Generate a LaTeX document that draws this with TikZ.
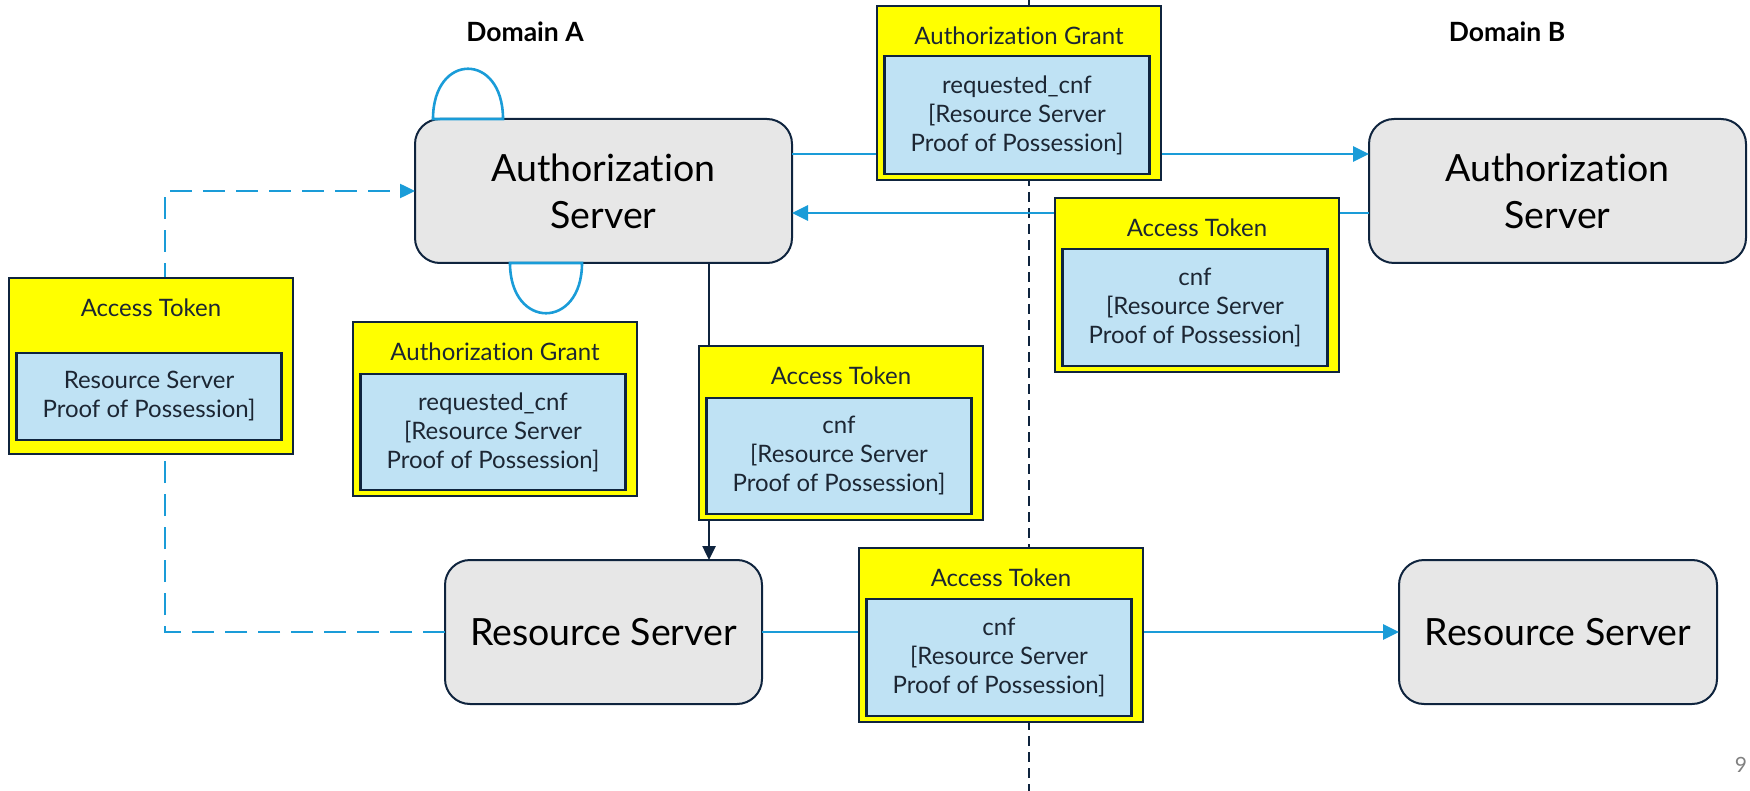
\documentclass[tikz,border=0pt]{standalone}
\usepackage{fontspec}
\setmainfont{Lato}[Ligatures=NoCommon]
\usetikzlibrary{arrows.meta,calc,backgrounds}

\definecolor{navy}{HTML}{0F243E}
\definecolor{flowblue}{HTML}{1A9CD8}
\definecolor{servergrey}{HTML}{E7E7E7}
\definecolor{cardyellow}{HTML}{FFFF00}
\definecolor{cardblue}{HTML}{BFE2F4}
\definecolor{inktext}{HTML}{1C2633}
\definecolor{pagegrey}{HTML}{808080}

% Yellow token card: name, left, top, height, title
\newcommand\tokencard[5]{%
  \node[cardouter, minimum height=#4pt, anchor=north west] (#1) at (#2,#3) {};
  \node[cardtitle] (#1-title) at ([yshift=-30pt]#1.north) {#5};
}
% Blue claim panel inside a card: name, inner height, bottom gap, body
\newcommand\cardbody[4]{%
  \node[cardinner, minimum height=#2pt, anchor=south west] (#1-body)
    at ([xshift=7.5pt,yshift=#3pt]#1.south west) {#4};
}

\begin{document}
\begin{tikzpicture}[x=1pt,y=-1pt,
  server/.style={draw=navy, line width=2pt, fill=servergrey, rounded corners=25pt,
    outer sep=0pt, align=center, text=black,
    font=\fontsize{37.5}{47}\selectfont},
  cardouter/.style={draw=navy, line width=2.5pt, fill=cardyellow, minimum width=284pt,
    outer sep=0pt, inner sep=0pt},
  cardtitle/.style={text=inktext, font=\fontsize{24}{28}\selectfont},
  cardinner/.style={draw=navy, line width=2.5pt, fill=cardblue, minimum width=265pt,
    outer sep=0pt, inner sep=0pt, align=center, text=inktext,
    font=\fontsize{24}{29}\selectfont},
  flow/.style={draw=flowblue, line width=2.8pt},
  flowtip/.style={-{Triangle[length=16pt,width=15pt]}},
  downflow/.style={draw=navy, line width=2.5pt, -{Triangle[length=14pt,width=13pt]}},
  dashflow/.style={draw=flowblue, line width=2.5pt, dash pattern=on 22pt off 11pt,
    -{Triangle[length=15pt,width=14pt]}},
  loopline/.style={draw=flowblue, line width=2.6pt},
  divider/.style={draw=navy, line width=2pt, dash pattern=on 10pt off 6pt},
  domainlabel/.style={font=\bfseries\fontsize{26.5}{30}\selectfont, text=black},
  pagenum/.style={font=\fontsize{21}{24}\selectfont, text=pagegrey}
]
\useasboundingbox (0,0) rectangle (1750,791);

% domain divider
\coordinate (divTop) at (1029,0);
\coordinate (divBot) at (1029,791);
\draw[divider] (divTop) -- (divBot);

% headings
\node[domainlabel] (domA) at (525,32) {Domain A};
\node[domainlabel] (domB) at (1507,32) {Domain B};

% servers
\node[server, minimum width=377pt, minimum height=144pt] (asA) at (603.5,191) {Authorization\\Server};
\node[server, minimum width=377pt, minimum height=144pt] (asB) at (1557.5,191) {Authorization\\Server};
\node[server, minimum width=317pt, minimum height=144pt] (rsA) at (603.5,632) {Resource Server};
\node[server, minimum width=318pt, minimum height=144pt] (rsB) at (1558,632) {Resource Server};

% connectors
\draw[flow, flowtip] ([yshift=37pt]asA.east) -- ([yshift=37pt]asA.east -| asB.west);
\draw[flow, flowtip] ([yshift=-22pt]asB.west) -- ([yshift=-22pt]asB.west -| asA.east);
\draw[downflow] ([xshift=105.5pt]asA.south) -- ([xshift=105.5pt]asA.south |- rsA.north);
\draw[flow, flowtip] (rsA.east) -- (rsB.west);
\draw[dashflow] (rsA.west) -- ++(-280,0) |- (asA.west);

% self loops on the domain A authorization server
\draw[loopline] ($(asA.north west)+(18,0)$) .. controls +(0,-67) and +(0,-67) ..
  ($(asA.north west)+(88,0)$) -- cycle;
\draw[loopline] ($(asA.south west)+(95,0)$) .. controls +(0,67) and +(0,67) ..
  ($(asA.south west)+(167,0)$) -- cycle;

% token cards
\tokencard{agTop}{877}{6}{174}{Authorization Grant}
\cardbody{agTop}{118}{6}{requested\_cnf\\{[}Resource Server\\Proof of Possession{]}}

\tokencard{atR}{1055}{198}{174}{Access Token}
\cardbody{atR}{117}{6}{cnf\\{[}Resource Server\\Proof of Possession{]}}

\tokencard{atL}{9}{278}{176}{Access Token}
\cardbody{atL}{87}{14}{Resource Server\\Proof of Possession{]}}

\tokencard{agL}{353}{322}{174}{Authorization Grant}
\cardbody{agL}{116}{6}{requested\_cnf\\{[}Resource Server\\Proof of Possession{]}}

\tokencard{atM}{699}{346}{174}{Access Token}
\cardbody{atM}{116}{6}{cnf\\{[}Resource Server\\Proof of Possession{]}}

\tokencard{atBot}{859}{548}{174}{Access Token}
\cardbody{atBot}{117}{6}{cnf\\{[}Resource Server\\Proof of Possession{]}}

% slide number
\node[pagenum] (pg) at (1741,765) {9};
\end{tikzpicture}
\end{document}
